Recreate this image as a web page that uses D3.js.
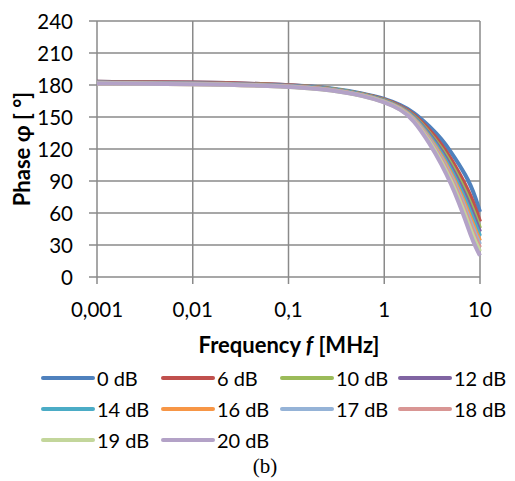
<!DOCTYPE html>
<html><head><meta charset="utf-8">
<script src="https://cdn.jsdelivr.net/npm/d3@7"></script>
<style>body{margin:0;background:#fff}svg{display:block}</style>
</head><body>
<script>
const freqs = [0.001, 0.01, 0.1, 0.3, 0.6, 1, 1.5, 2, 3, 4, 5, 6, 7, 8, 9, 10];
const seriesNames = ["0 dB","6 dB","10 dB","12 dB","14 dB","16 dB","17 dB","18 dB","19 dB","20 dB"];
const colors = ["#4F81BD","#C0504D","#9BBB59","#8064A2","#4BACC6","#F79646","#95B3D7","#D99694","#C3D69B","#B3A2C7"];
const s0  = [183, 182.5, 180.5, 177, 172, 167.5, 161, 155, 141, 129, 117, 106, 96, 86, 74, 61];
const s6  = [183, 182.5, 180.5, 176.5, 171.5, 166.7, 160.1, 153.5, 137.5, 123.7, 110.4, 98.1, 86.8, 75.7, 63.9, 52];
const s10 = [182.5, 182, 180, 176.5, 171.5, 166.2, 159.5, 152.4, 135.1, 120.1, 105.9, 92.7, 80.5, 68.6, 57, 45.8];
const s12 = [182.5, 182, 180, 176, 171, 165.9, 159.2, 151.9, 133.8, 118.2, 103.5, 89.8, 77.1, 64.9, 53.3, 42.5];
const s14 = [182, 181.5, 179.5, 176, 171, 165.6, 158.8, 151.2, 132.2, 115.8, 100.5, 86.2, 72.9, 60.2, 48.7, 38.5];
const s16 = [182, 181.5, 179.5, 175.5, 170.5, 165.2, 158.4, 150.4, 130.4, 113.2, 97.2, 82.2, 68.3, 55, 43.6, 33.9];
const s17 = [182, 181.5, 179.5, 175.5, 170.5, 164.9, 158, 149.8, 129.2, 111.2, 94.8, 79.4, 64.9, 51.2, 40, 30.7];
const s18 = [181.5, 181, 179, 175.5, 170.5, 164.7, 157.8, 149.3, 128, 109.6, 92.7, 76.8, 62, 47.9, 36.7, 27.8];
const s19 = [181.5, 181, 179, 175, 170, 164.3, 157.4, 148.7, 126.6, 107.4, 90, 73.6, 58.2, 43.7, 32.6, 24.1];
const s20 = [181.5, 181, 179, 175, 170, 164, 157, 148, 125, 105, 87, 70, 54, 39, 28, 20];
const allSeries = [s0, s6, s10, s12, s14, s16, s17, s18, s19, s20];
const yTicks = [0, 30, 60, 90, 120, 150, 180, 210, 240];
const xTicks = [0.001, 0.01, 0.1, 1, 10];
const xTickLabels = ["0,001", "0,01", "0,1", "1", "10"];

const W = 515, H = 481;
const svg = d3.select("body").append("svg").attr("width", W).attr("height", H);
const x = d3.scaleLog().domain([0.001, 10]).range([97, 480]);
const y = d3.scaleLinear().domain([0, 240]).range([277, 21]);
const font = "Lato, 'Liberation Sans', Arial, sans-serif";
const grid = "#8a8a8a";

// gridlines
svg.append("g").selectAll("line").data(yTicks).join("line")
  .attr("x1", 89).attr("x2", x(10)).attr("y1", d => y(d)).attr("y2", d => y(d))
  .attr("stroke", grid).attr("stroke-width", 1.5);
svg.append("g").selectAll("line").data(xTicks).join("line")
  .attr("x1", d => x(d)).attr("x2", d => x(d)).attr("y1", y(240)).attr("y2", y(0) + 7)
  .attr("stroke", grid).attr("stroke-width", 1.5);

// tick labels
svg.append("g").selectAll("text").data(yTicks).join("text")
  .attr("x", 73).attr("y", d => y(d) + 7.5).attr("text-anchor", "end")
  .attr("font-family", font).attr("font-size", 20.5).attr("fill", "#000").text(d => d);
svg.append("g").selectAll("text").data(xTicks).join("text")
  .attr("x", d => x(d)).attr("y", 317).attr("text-anchor", "middle")
  .attr("font-family", font).attr("font-size", 20.5).attr("fill", "#000")
  .text((d, i) => xTickLabels[i]);

// lines
const line = d3.line().x(d => x(d[0])).y(d => y(d[1])).curve(d3.curveBasis);
svg.append("g").selectAll("path").data(allSeries).join("path")
  .attr("d", s => line(s.map((v, i) => [freqs[i], v])))
  .attr("fill", "none").attr("stroke", (s, i) => colors[i])
  .attr("stroke-width", 4).attr("stroke-linecap", "butt").attr("stroke-linejoin", "round");

// axis titles
svg.append("text").attr("transform", "translate(30,149) rotate(-90)")
  .attr("text-anchor", "middle").attr("font-family", font).attr("font-weight", "bold")
  .attr("font-size", 22).text("Phase φ [ °]");
const xt = svg.append("text").attr("x", 289).attr("y", 353).attr("text-anchor", "middle")
  .attr("font-family", font).attr("font-weight", "bold").attr("font-size", 22);
xt.append("tspan").text("Frequency ");
xt.append("tspan").attr("font-style", "italic").text("f");
xt.append("tspan").text(" [MHz]");

// legend
const colX = [43, 163, 282, 400];
const rowY = [378, 409, 440];
const lg = svg.append("g").selectAll("g").data(seriesNames).join("g")
  .attr("transform", (d, i) => `translate(${colX[i % 4]},${rowY[Math.floor(i / 4)]})`);
lg.append("line").attr("x1", 0).attr("x2", 50).attr("y1", 0).attr("y2", 0)
  .attr("stroke", (d, i) => colors[i]).attr("stroke-width", 4).attr("stroke-linecap", "round");
lg.append("text").attr("x", 54).attr("y", 7.5).attr("font-family", font)
  .attr("font-size", 20).text(d => d);

svg.append("text").attr("x", 265).attr("y", 473).attr("text-anchor", "middle")
  .attr("font-family", "'Liberation Serif', 'Times New Roman', serif").attr("font-size", 21).text("(b)");
</script>
</body></html>
